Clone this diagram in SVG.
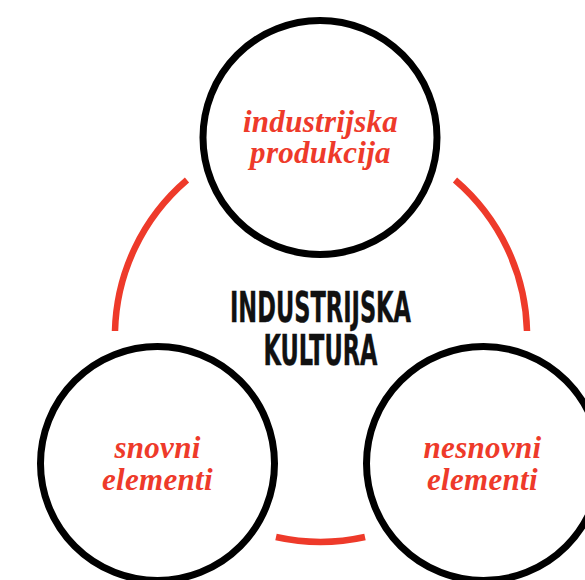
<svg xmlns="http://www.w3.org/2000/svg" width="585" height="580" viewBox="0 0 585 580">
  <style>
    .node { fill: #ffffff; stroke: #000000; stroke-width: 7; }
    .conn { fill: none; stroke: #ee3a2a; stroke-width: 6.5; stroke-linecap: butt; }
    .lbl { font-family: "Liberation Serif", "Times New Roman", serif; font-weight: bold; font-style: italic; font-size: 31px; letter-spacing: 0.3px; fill: #ee3a2a; text-anchor: middle; }
    .title { font-family: "Liberation Sans Narrow", "DejaVu Sans Condensed", "Liberation Sans", sans-serif; font-weight: bold; font-size: 43px; fill: #111111; stroke: #111111; stroke-width: 0.4; text-anchor: middle; }
  </style>
  <rect width="585" height="580" fill="#ffffff"/>
  <g id="connectors">
    <path class="conn" d="M 187 180 A 205.6 205.6 0 0 0 115 331"/>
    <path class="conn" d="M 455 180 A 205.6 205.6 0 0 1 527 331"/>
    <path class="conn" d="M 276 537 A 205.6 205.6 0 0 0 365 537"/>
  </g>
  <g id="center-label">
    <text class="title" x="320.5" y="322" textLength="181" lengthAdjust="spacingAndGlyphs">INDUSTRIJSKA</text>
    <text class="title" x="320.5" y="365" textLength="114" lengthAdjust="spacingAndGlyphs">KULTURA</text>
  </g>
  <g id="node-top">
    <circle class="node" cx="320" cy="137.5" r="117"/>
    <text class="lbl" x="320.5" y="132">industrijska</text>
    <text class="lbl" x="320.5" y="163">produkcija</text>
  </g>
  <g id="node-left">
    <circle class="node" cx="157.5" cy="463.5" r="117"/>
    <text class="lbl" x="157.5" y="458">snovni</text>
    <text class="lbl" x="157.5" y="490">elementi</text>
  </g>
  <g id="node-right">
    <circle class="node" cx="483.5" cy="463.5" r="117"/>
    <text class="lbl" x="482.5" y="458">nesnovni</text>
    <text class="lbl" x="482.5" y="490">elementi</text>
  </g>
</svg>
